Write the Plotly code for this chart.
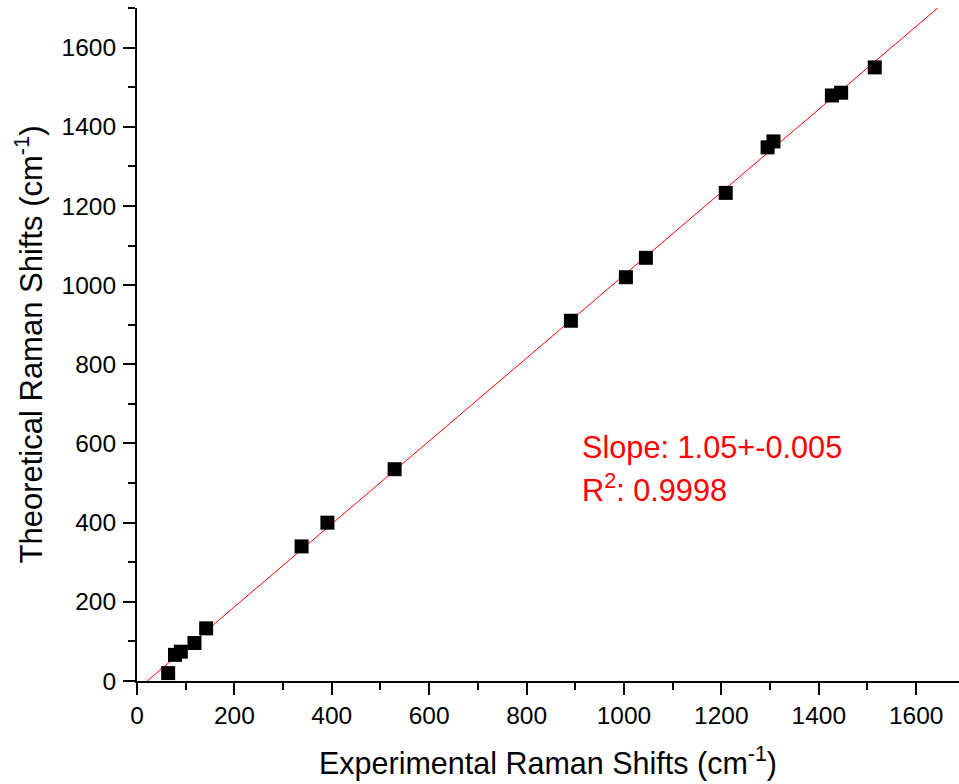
import numpy as np
import plotly.graph_objects as go

# Experimental vs theoretical Raman shifts (cm^-1)
exp_shift = [64, 78, 90, 118, 142, 338, 391, 529, 891, 1004, 1045, 1209, 1295, 1307, 1427, 1446, 1515]
theo_shift = [20, 66, 74, 96, 133, 340, 400, 535, 910, 1020, 1069, 1233, 1348, 1363, 1479, 1486, 1550]

x_range = [0, 1688]
y_range = [0, 1700]
tick_vals = [0, 200, 400, 600, 800, 1000, 1200, 1400, 1600]

slope_text = "Slope: 1.05+-0.005"
r2_text = "R<sup>2</sup>: 0.9998"

FONT = "Liberation Sans, Arial"

# linear fit
coef = np.polyfit(exp_shift, theo_shift, 1)
fit_x = np.array([0, 1700])
fit_y = np.polyval(coef, fit_x)

fig = go.Figure()
fig.add_trace(go.Scatter(x=fit_x, y=fit_y, mode="lines",
                         line=dict(color="red", width=1), showlegend=False))
fig.add_trace(go.Scatter(x=exp_shift, y=theo_shift, mode="markers",
                         marker=dict(symbol="square", size=14, color="black",
                                     line=dict(width=0)), showlegend=False))

axis_common = dict(
    showgrid=False, zeroline=False, showline=True, linecolor="black", linewidth=2,
    ticks="outside", ticklen=12, tickwidth=2, tickcolor="black",
    tickfont=dict(family=FONT, size=24.5, color="black"),
    minor=dict(dtick=100, ticklen=7, tickwidth=2, tickcolor="black", ticks="outside"),
    tickmode="array", tickvals=tick_vals, mirror=False,
)

fig.update_xaxes(range=x_range, **axis_common,
                 title=dict(text="Experimental Raman Shifts (cm<sup>-1</sup>)",
                            font=dict(family=FONT, size=30.5, color="black"),
                            standoff=24))
fig.update_yaxes(range=y_range, **axis_common, ticklabelstandoff=2,
                 title=dict(text="Theoretical Raman Shifts (cm<sup>-1</sup>)",
                            font=dict(family=FONT, size=31, color="black"),
                            standoff=10))

fig.add_annotation(x=909, y=589, xref="x", yref="y", text=slope_text, showarrow=False,
                   xanchor="left", yanchor="middle",
                   font=dict(family=FONT, size=30.7, color="red"))
fig.add_annotation(x=909, y=486, xref="x", yref="y", text=r2_text, showarrow=False,
                   xanchor="left", yanchor="middle",
                   font=dict(family=FONT, size=30.7, color="red"))

fig.update_layout(width=959, height=784, margin=dict(l=137, r=0, t=8, b=103),
                  paper_bgcolor="white", plot_bgcolor="white")

fig.write_html("out.html")
